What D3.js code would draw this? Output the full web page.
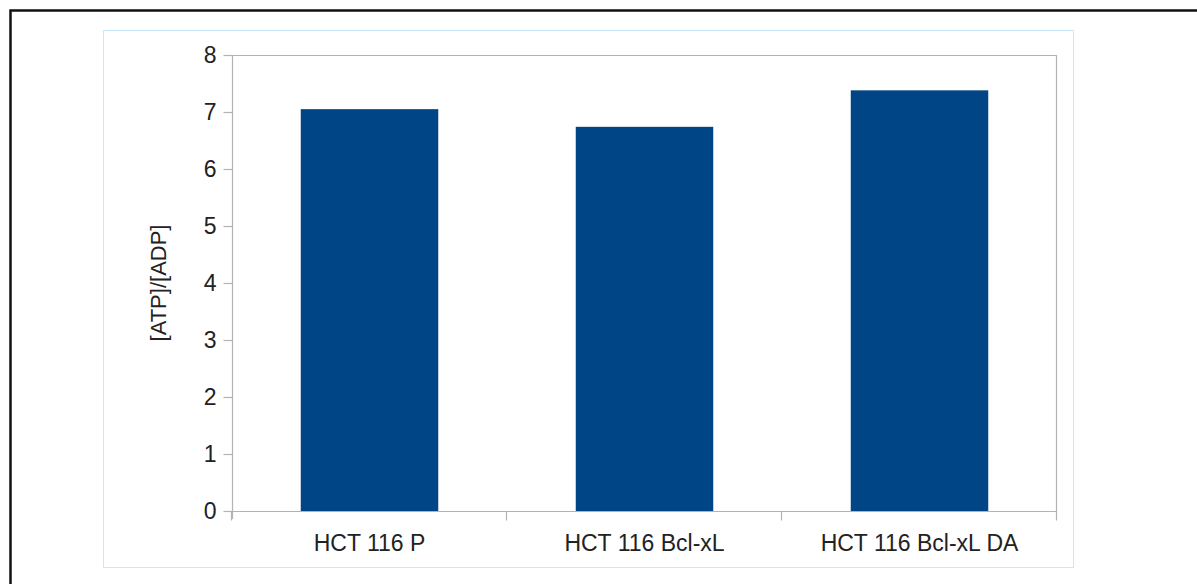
<!DOCTYPE html>
<html>
<head>
<meta charset="utf-8">
<script src="https://cdn.jsdelivr.net/npm/d3@7/dist/d3.min.js"></script>
<style>
  html, body { margin: 0; padding: 0; background: #fff; }
  svg { display: block; }
  text { font-family: "Liberation Sans", Arial, sans-serif; fill: #222; }
</style>
</head>
<body>
<svg id="chart" width="1197" height="584"></svg>
<script>
const categories = ["HCT 116 P", "HCT 116 Bcl-xL", "HCT 116 Bcl-xL DA"];
const values = [7.05, 6.74, 7.38];
const yTicks = [0, 1, 2, 3, 4, 5, 6, 7, 8];
const yLabel = "[ATP]/[ADP]";

const svg = d3.select("#chart");

// outer frame
svg.append("rect").attr("x", 10.5).attr("y", 10.5).attr("width", 1300).attr("height", 700)
  .attr("fill", "none").attr("stroke", "#111").attr("stroke-width", 2.5);

// chart area border (light blue)
svg.append("rect").attr("x", 103.5).attr("y", 30.5).attr("width", 970).attr("height", 537)
  .attr("fill", "#fff").attr("stroke", "#c6ecfa").attr("stroke-width", 1);

const m = { left: 232, top: 55, right: 1057, bottom: 511 };

const x = d3.scaleBand().domain(categories).range([m.left, m.right]).paddingInner(0).paddingOuter(0);
const y = d3.scaleLinear().domain([0, 8]).range([m.bottom, m.top]);

// plot wall border (top & right)
svg.append("path")
  .attr("d", `M${m.left},${m.top + 0.5}H${m.right - 0.5}V${m.bottom}`)
  .attr("fill", "none").attr("stroke", "#b3b3b3").attr("stroke-width", 1.2);

// bars
const bw = x.bandwidth() * 0.5;
svg.append("g").selectAll("rect").data(values).join("rect")
  .attr("x", (d, i) => x(categories[i]) + (x.bandwidth() - bw) / 2)
  .attr("y", d => y(d))
  .attr("width", bw)
  .attr("height", d => y(0) - y(d))
  .attr("fill", "#004586");

// y axis
const yAxis = d3.axisLeft(y).tickValues(yTicks).tickFormat(d3.format("d")).tickSize(9).tickPadding(7);
const gy = svg.append("g").attr("transform", `translate(${m.left + 0.5},0)`).call(yAxis);
gy.select(".domain").attr("stroke", "#b3b3b3").attr("stroke-width", 1.2).attr("d", `M0,${m.top}V${m.bottom + 8}`);
gy.selectAll(".tick line").attr("stroke", "#b3b3b3").attr("stroke-width", 1.2);
gy.selectAll(".tick text").attr("font-size", 23).attr("fill", "#222")
  .style("font-family", "'Liberation Sans', Arial, sans-serif");

// x axis (ticks at category boundaries)
const boundaries = categories.map(c => x(c)).concat([m.right]);
const gx = svg.append("g").attr("transform", `translate(0,${m.bottom + 0.5})`);
gx.append("path").attr("d", `M${m.left},0H${m.right}`).attr("stroke", "#b3b3b3").attr("stroke-width", 1.2).attr("fill", "none");
gx.selectAll("line.b").data(boundaries).join("line")
  .attr("x1", d => Math.round(d) - 0.5).attr("x2", d => Math.round(d) - 0.5)
  .attr("y1", 0).attr("y2", 9)
  .attr("stroke", "#b3b3b3").attr("stroke-width", 1.2);
gx.selectAll("text").data(categories).join("text")
  .attr("x", d => x(d) + x.bandwidth() / 2)
  .attr("y", 39)
  .attr("text-anchor", "middle")
  .attr("font-size", 23)
  .text(d => d);

// y label
svg.append("text")
  .attr("transform", `translate(166,${(m.top + m.bottom) / 2}) rotate(-90)`)
  .attr("text-anchor", "middle")
  .attr("font-size", 22)
  .text(yLabel);
</script>
</body>
</html>
